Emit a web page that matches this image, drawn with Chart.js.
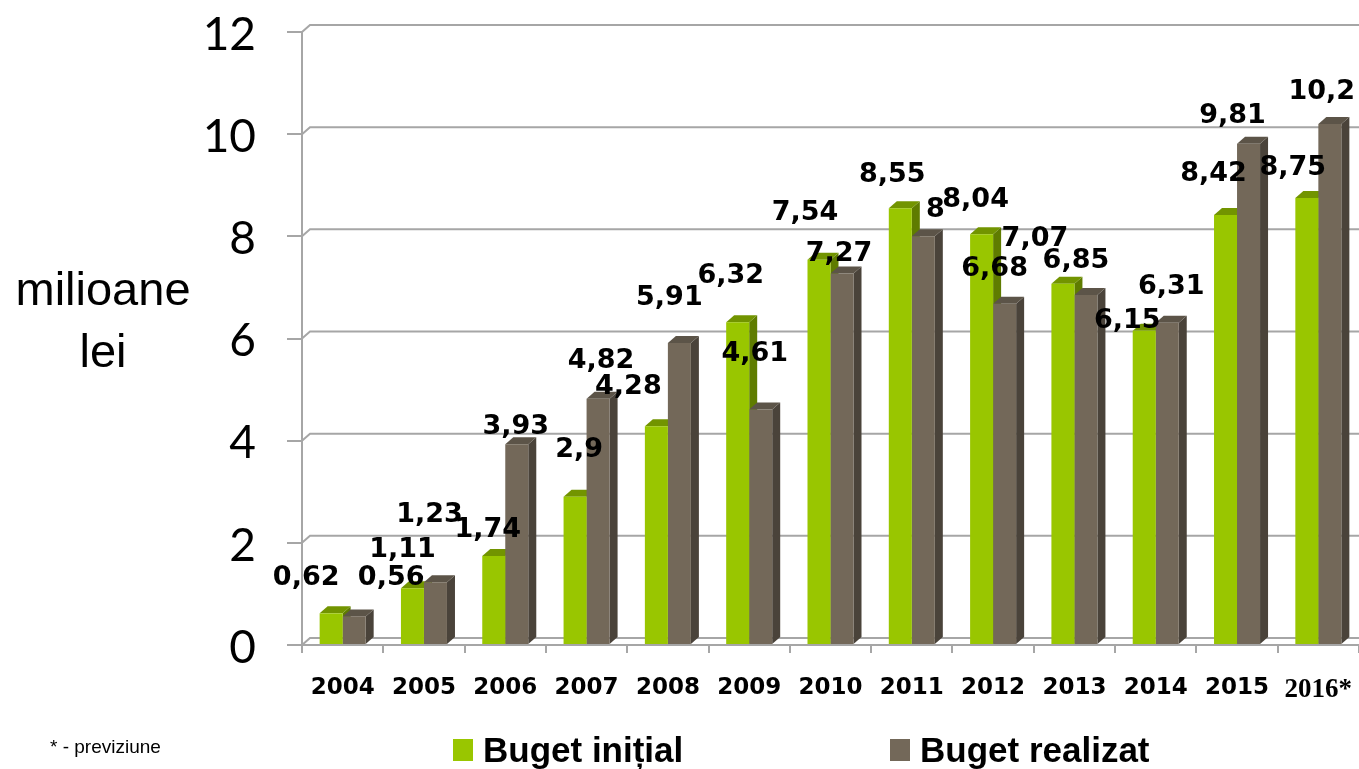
<!DOCTYPE html>
<html>
<head>
<meta charset="utf-8">
<script src="https://cdn.jsdelivr.net/npm/chart.js@4.4.0/dist/chart.umd.min.js"></script>
<style>
html,body{margin:0;padding:0;background:#fff;}
#wrap{width:1359px;height:769px;position:relative;}
</style>
</head>
<body>
<div id="wrap"><canvas id="chart" width="1359" height="769"></canvas></div>
<script>

// DATA

const years = ["2004","2005","2006","2007","2008","2009","2010","2011","2012","2013","2014","2015","2016*"];

const bugetInitial  = [0.62, 1.11, 1.74, 2.9, 4.28, 6.32, 7.54, 8.55, 8.04, 7.07, 6.15, 8.42, 8.75];
const bugetRealizat = [0.56, 1.23, 3.93, 4.82, 5.91, 4.61, 7.27, 8, 6.68, 6.85, 6.31, 9.81, 10.2];

const yTicks = [0, 2, 4, 6, 8, 10, 12];

const seriesNames = ["Buget inițial", "Buget realizat"];

// LABEL PLACEMENT (offset of each value label from its bar top, like the slide)

const labelShiftX = [
    [-25, -10, -6, 4, -28, -7, -14, -8, -6, -28, -17, -12, -14],
    [37, -6, -1, 3, -10, -6, -3, 12, -10, -10, 4, -16, -8]
];
const labelShiftY = [
    [-35, -38, -26, -47, -39, -46, -47, -33, -34, -45, -10, -41, -30],
    [-38, -67, -17, -38, -45, -56, -20, -26, -35, -34, -36, -28, -32]
];

// COLORS

const GREEN      = "#99c600";
const GREEN_TOP  = "#729400";
const GREEN_SIDE = "#5f7c00";
const GRAY       = "#736859";
const GRAY_TOP   = "#5c5448";
const GRAY_SIDE  = "#4a433a";
const GRID       = "#a6a6a6";

const DX = 8, DY = -7;

// 3D WALL (gridlines pushed back)

const wallPlugin = {
    id: "wall",
    beforeDatasetsDraw(chart){
        const ctx = chart.ctx;
        const ys = chart.scales.y;
        const area = chart.chartArea;
        ctx.save();
        ctx.strokeStyle = GRID;
        ctx.lineWidth = 2;
        yTicks.forEach(v => {
            const py = ys.getPixelForValue(v);
            ctx.beginPath();
            ctx.moveTo(area.left, py);
            ctx.lineTo(area.left + DX, py + DY);
            ctx.lineTo(area.right, py + DY);
            ctx.stroke();
        });
        ctx.restore();
    }
};

// 3D BAR FACES (drawn before the fronts)

const depthPlugin = {
    id: "depth",
    beforeDatasetsDraw(chart){
        const ctx = chart.ctx;
        const tops  = [GREEN_TOP, GRAY_TOP];
        const sides = [GREEN_SIDE, GRAY_SIDE];
        ctx.save();
        chart.data.datasets.forEach((ds, i) => {
            chart.getDatasetMeta(i).data.forEach(bar => {
                const p = bar.getProps(["x","y","base","width"], true);
                const l = p.x - p.width / 2;
                const r = p.x + p.width / 2;

                ctx.fillStyle = sides[i];
                ctx.beginPath();
                ctx.moveTo(r, p.y);
                ctx.lineTo(r + DX, p.y + DY);
                ctx.lineTo(r + DX, p.base + DY);
                ctx.lineTo(r, p.base);
                ctx.closePath();
                ctx.fill();

                ctx.fillStyle = tops[i];
                ctx.beginPath();
                ctx.moveTo(l, p.y);
                ctx.lineTo(l + DX, p.y + DY);
                ctx.lineTo(r + DX, p.y + DY);
                ctx.lineTo(r, p.y);
                ctx.closePath();
                ctx.fill();
            });
        });
        ctx.restore();
    }
};

// VALUE LABELS

const labelPlugin = {
    id: "valueLabels",
    afterDatasetsDraw(chart){
        const ctx = chart.ctx;
        ctx.save();
        ctx.font = "bold 27px 'DejaVu Sans'";
        ctx.fillStyle = "#000";
        ctx.textAlign = "center";
        ctx.textBaseline = "middle";
        chart.data.datasets.forEach((ds, i) => {
            chart.getDatasetMeta(i).data.forEach((bar, j) => {
                const txt = String(ds.data[j]).replace(".", ",");
                ctx.fillText(txt, bar.x + labelShiftX[i][j], bar.y + labelShiftY[i][j]);
            });
        });
        ctx.restore();
    }
};

// AXIS TITLE, NOTE, LEGEND

const extrasPlugin = {
    id: "extras",
    afterDraw(chart){
        const ctx = chart.ctx;
        ctx.save();
        ctx.fillStyle = "#000";
        ctx.textBaseline = "alphabetic";
        ctx.textAlign = "center";
        ctx.font = "47px 'Liberation Sans'";
        ctx.fillText("milioane", 103, 305);
        ctx.fillText("lei", 103, 367);

        ctx.textAlign = "left";
        ctx.textBaseline = "middle";
        ctx.font = "19px 'Liberation Sans'";
        ctx.fillText("* - previziune", 50, 748);

        const boxX = [453, 890];
        ctx.font = "bold 35px 'Liberation Sans'";
        chart.data.datasets.forEach((ds, i) => {
            ctx.fillStyle = ds.backgroundColor;
            ctx.fillRect(boxX[i], 739, 20, 22);
            ctx.fillStyle = "#000";
            ctx.textBaseline = "alphabetic";
            ctx.fillText(ds.label, boxX[i] + 30, 762);
        });
        ctx.restore();
    }
};

// CHART

new Chart(document.getElementById("chart"), {

    type: "bar",

    data: {
        labels: years,
        datasets: [
            { label: seriesNames[0], data: bugetInitial,  backgroundColor: GREEN },
            { label: seriesNames[1], data: bugetRealizat, backgroundColor: GRAY }
        ]
    },

    options: {
        responsive: false,
        animation: false,
        devicePixelRatio: 1,
        layout: { padding: { top: 32, right: 0, bottom: 0, left: 0 } },
        datasets: {
            bar: { barPercentage: 1, categoryPercentage: 0.566 }
        },
        plugins: {
            legend: { display: false },
            tooltip: { enabled: false }
        },
        scales: {
            x: {
                afterFit(scale){
                    scale.height = 124;
                    scale.paddingLeft = 0;
                    scale.paddingRight = 0;
                },
                grid: {
                    offset: true,
                    drawOnChartArea: false,
                    drawTicks: true,
                    tickLength: 8,
                    color: GRID,
                    lineWidth: 2
                },
                border: { color: GRID, width: 2 },
                ticks: {
                    color: "#000",
                    padding: 21,
                    maxRotation: 0,
                    autoSkip: false,
                    font: (c) => c.index === years.length - 1
                        ? { family: "'Liberation Serif'", size: 27, weight: "bold" }
                        : { family: "'DejaVu Sans'", size: 23, weight: "bold" }
                }
            },
            y: {
                min: yTicks[0],
                max: yTicks[yTicks.length - 1],
                afterFit(scale){
                    scale.width = 302;
                    scale.paddingTop = 0;
                    scale.paddingBottom = 0;
                },
                grid: {
                    drawOnChartArea: false,
                    drawTicks: true,
                    tickLength: 15,
                    color: GRID,
                    lineWidth: 2
                },
                border: { color: GRID, width: 2 },
                ticks: {
                    stepSize: yTicks[1] - yTicks[0],
                    color: "#000",
                    padding: 31,
                    labelOffset: 3,
                    font: { family: "Lato", size: 46, weight: "normal" }
                }
            }
        }
    },

    plugins: [wallPlugin, depthPlugin, labelPlugin, extrasPlugin]
});

</script>
</body>
</html>
